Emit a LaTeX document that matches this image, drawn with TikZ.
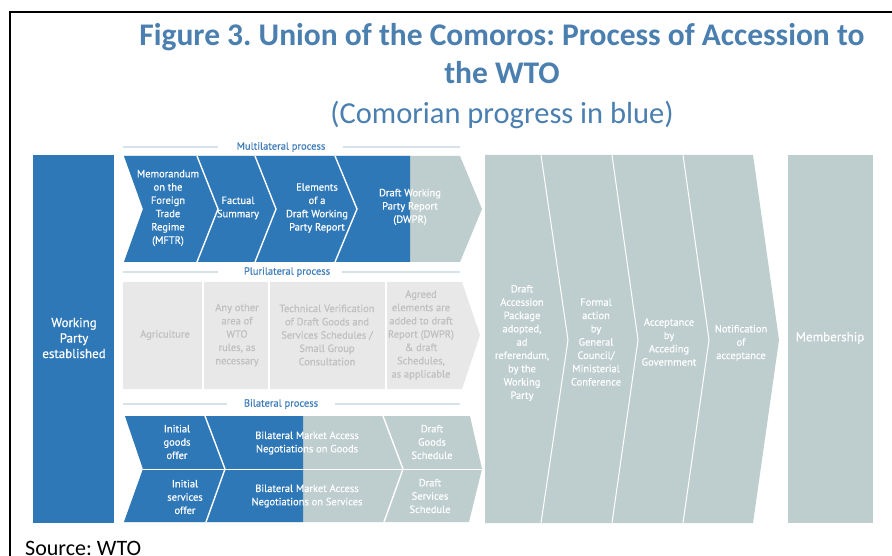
\documentclass[tikz,border=0pt]{standalone}
\usepackage{fontspec}
\setmainfont{Carlito}
\newfontfamily\din[FakeBold=0.5]{PT Sans}
\definecolor{wtoblue}{RGB}{46,120,184}
\definecolor{wtogray}{RGB}{190,205,206}
\definecolor{plurifill}{RGB}{232,232,232}
\definecolor{pluritext}{RGB}{192,192,192}
\definecolor{titleblue}{RGB}{74,127,175}
\definecolor{labelblue}{RGB}{62,125,185}
\definecolor{lineblue}{RGB}{214,227,236}
\tikzset{
  titletext/.style={font=\bfseries\fontsize{31.5bp}{34bp}\selectfont, text=titleblue, inner sep=0, anchor=base},
  subtext/.style={font=\fontsize{30.5bp}{33bp}\selectfont, text=titleblue, inner sep=0, anchor=base},
  boxtext/.style={font=\din\fontsize{10.5bp}{13.3bp}\selectfont, text=white, align=center, inner sep=0},
  bigtext/.style={font=\din\fontsize{13bp}{15.5bp}\selectfont, text=white, align=center, inner sep=0},
  pluritxt/.style={boxtext, text=pluritext},
  proclabel/.style={font=\din\fontsize{10.5bp}{12bp}\selectfont, text=labelblue, inner sep=0},
  procline/.style={draw=lineblue, line width=1.5bp},
  divider/.style={draw=white, line width=1.4bp},
  thindiv/.style={draw=white, line width=1bp}
}
\begin{document}
\frenchspacing
\begin{tikzpicture}[x=1bp,y=-1bp]
\useasboundingbox (0,0) rectangle (892,556);
\fill[white] (0,0) rectangle (892,556);
% frame
\draw[line width=2bp] (10,557) -- (10,12) -- (893,12);
% titles
\node[titletext] (t1) at (502,46) {Figure 3. Union of the Comoros: Process of Accession to};
\node[titletext] (t2) at (502,84) {the WTO};
\node[subtext] (t3) at (502,124) {(Comorian progress in blue)};
% Working Party
\fill[wtoblue] (33,155) rectangle (114,523);
\node[bigtext] (wp) at (74,338) {Working\\Party\\established};
% Multilateral
\draw[procline] (123,147) -- (218,147);
\draw[procline] (343,147) -- (460,147);
\node[proclabel] (ml) at (281,147) {Multilateral process};
\def\multipoly{(124,156) -- (460,156) -- (482,209) -- (460,262) -- (124,262) -- (143,209) -- cycle}
\fill[wtogray] \multipoly;
\begin{scope}
\clip (0,0) rectangle (410,556);
\fill[wtoblue] \multipoly;
\end{scope}
\draw[divider] (197,156) -- (218,209) -- (197,262);
\draw[divider] (255,156) -- (276,209) -- (255,262);
\draw[divider] (335,156) -- (357,209) -- (335,262);
\node[boxtext] (m1) at (168,208) {Memorandum\\on the\\Foreign\\Trade\\Regime\\(MFTR)};
\node[boxtext] (m2) at (238,208) {Factual\\Summary};
\node[boxtext] (m3) at (317,208) {Elements\\of a\\Draft Working\\Party Report};
\node[boxtext] (m4) at (410,207) {Draft Working\\Party Report\\(DWPR)};
% Plurilateral
\draw[procline] (123,272) -- (218,272);
\draw[procline] (342,272) -- (460,272);
\node[proclabel] (pl) at (287,272) {Plurilateral process};
\fill[plurifill] (123,282) -- (462,282) -- (480,335) -- (462,389) -- (123,389) -- cycle;
\draw[divider] (203,282) -- (203,389);
\draw[divider] (269,282) -- (269,389);
\draw[divider] (386,282) -- (386,389);
\node[pluritxt] (p1) at (165,335) {Agriculture};
\node[pluritxt] (p2) at (237,335) {Any other\\area of\\WTO\\rules, as\\necessary};
\node[pluritxt] (p3) at (327,335) {Technical Verification\\of Draft Goods and\\Services Schedules /\\Small Group\\Consultation};
\node[pluritxt] (p4) at (421,335) {Agreed\\elements are\\added to draft\\Report (DWPR)\\\& draft\\Schedules,\\as applicable};
% Bilateral
\draw[procline] (123,404) -- (227,404);
\draw[procline] (335,404) -- (460,404);
\node[proclabel] (bl) at (281,404) {Bilateral process};
\def\bipoly{(125,416) -- (470,416) -- (482,469) -- (469,522) -- (124,522) -- (143,469) -- cycle}
\fill[wtogray] \bipoly;
\begin{scope}
\clip (0,0) rectangle (303,556);
\fill[wtoblue] \bipoly;
\end{scope}
\draw[divider] (143,469.5) -- (482,469.5);
\draw[divider] (205,416) -- (225,469) -- (206,522);
\draw[divider] (383,416) -- (403,469) -- (384,522);
\node[boxtext] (b1) at (177,442) {Initial\\goods\\offer};
\node[boxtext] (b2) at (307,443) {Bilateral Market Access\\Negotiations on Goods};
\node[boxtext] (b3) at (432,442) {Draft\\Goods\\Schedule};
\node[boxtext] (b4) at (185,497) {Initial\\services\\offer};
\node[boxtext] (b5) at (307,496) {Bilateral Market Access\\Negotiations on Services};
\node[boxtext] (b6) at (430,496) {Draft\\Services\\Schedule};
% Final stages
\fill[wtogray] (485,155) -- (753,155) -- (779,340) -- (753,523) -- (485,523) -- cycle;
\draw[thindiv] (541,155) -- (568,340) -- (541,523);
\draw[thindiv] (612,155) -- (638,340) -- (612,523);
\draw[thindiv] (683,155) -- (709,340) -- (683,523);
\node[boxtext] (f1) at (522,343) {Draft\\Accession\\Package\\adopted,\\ad\\referendum,\\by the\\Working\\Party};
\node[boxtext] (f2) at (596,342) {Formal\\action\\by\\General\\Council/\\Ministerial\\Conference};
\node[boxtext] (f3) at (669,342) {Acceptance\\by\\Acceding\\Government};
\node[boxtext] (f4) at (741,343) {Notification\\of\\acceptance};
% Membership
\fill[wtogray] (788,155) rectangle (873,523);
\node[bigtext] (mem) at (830,338) {Membership};
% source
\node[font=\fontsize{22bp}{24bp}\selectfont, inner sep=0, anchor=base west] (src) at (25,555.5) {Source: WTO};
\end{tikzpicture}
\end{document}
